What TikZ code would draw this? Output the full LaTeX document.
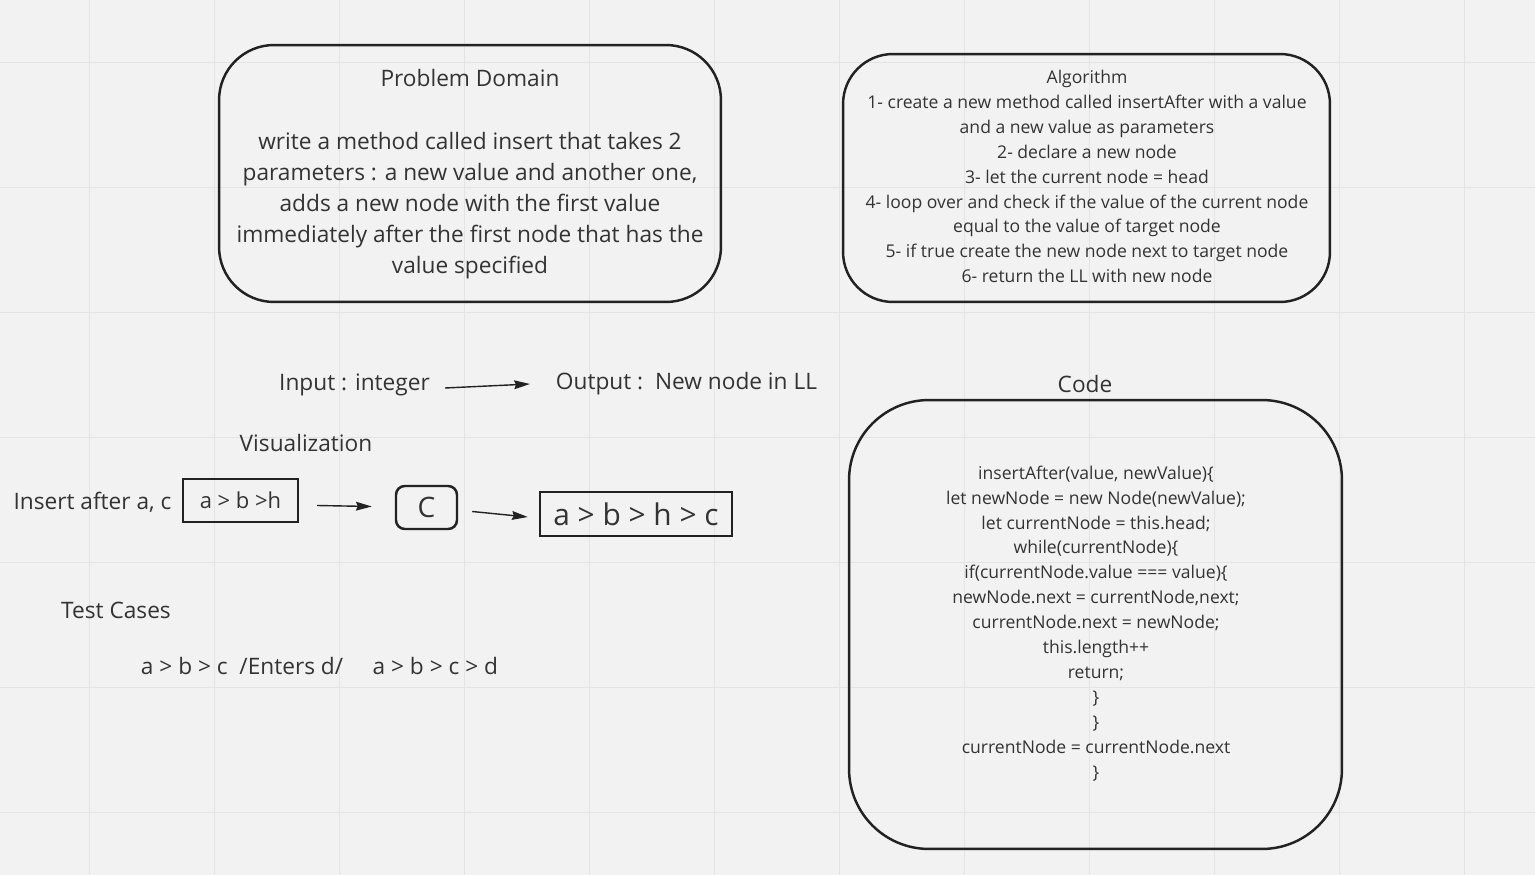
\documentclass[tikz,border=0pt]{standalone}
\usepackage{fontspec}
\setmainfont{Open Sans}
\usetikzlibrary{arrows.meta,positioning,calc}
\definecolor{board}{RGB}{242,242,242}
\definecolor{gridline}{RGB}{228,228,228}
\definecolor{ink}{RGB}{51,51,51}
\definecolor{edge}{RGB}{34,34,34}

\begin{document}
\begin{tikzpicture}[x=0.02cm,y=-0.02cm]
			\tikzset{line/.style={draw=edge,line width=1.4pt}}
			\tikzset{arrow/.style={draw=edge,line width=0.8pt,-{Stealth[length=9pt,width=5pt,inset=1pt]}}}
			\tikzset{card/.style={line,rounded corners=#1,inner sep=0pt}}
			\tikzset{txt/.style={text=ink,align=center,inner sep=0pt}}
			\tikzset{big/.style={txt,font=\fontsize{12.9}{17.6}\selectfont}}
			\tikzset{small/.style={txt,font=\fontsize{10}{14.2}\selectfont}}

			% board and grid
			\fill[board] (0,0) rectangle (1535,875);
			\useasboundingbox (0,0) rectangle (1535,875);
			\foreach \x in {89,214,...,1464} \draw[gridline,line width=0.5pt] (\x,0) -- (\x,875);
			\foreach \y in {62,187,...,812} \draw[gridline,line width=0.5pt] (0,\y) -- (1535,\y);

			% problem domain
			\node[card=1.1cm,minimum width=10.04cm,minimum height=5.14cm] (pdbox) at (470,173.5) {};
			\node[big] (pdtitle) at (470,78) {Problem Domain};
			\node[big] (pdtext) at (470,205.5) {write a method called insert that takes 2\\parameters : a new value and another one,\\adds a new node with the first value\\immediately after the first node that has the\\value specified};

			% algorithm
			\node[card=1.0cm,minimum width=9.74cm,minimum height=4.96cm] (algbox) at (1086.5,178) {};
			\node[small] (algtext) at (1087,176.5) {Algorithm\\1- create a new method called insertAfter with a value\\and a new value as parameters\\2- declare a new node\\3- let the current node = head\\4- loop over and check if the value of the current node\\equal to the value of target node\\5- if true create the new node next to target node\\6- return the LL with new node};

			% input / output
			\node[big] (input) at (354.5,385) {Input : integer};
			\node[big] (output) at (686.5,384) {Output :\ \ New node in LL};
			\coordinate (inR) at (445,388);
			\coordinate (outL) at (530,384);
			\draw[arrow] (inR) -- (outL);

			% code
			\node[big] (codetitle) at (1085,384) {Code};
			\node[card=1.6cm,minimum width=9.86cm,minimum height=8.98cm] (codebox) at (1095.5,624.5) {};
			\node[small] (codetext) at (1096,623.5) {insertAfter(value, newValue)\{\\let newNode = new Node(newValue);\\let currentNode = this.head;\\while(currentNode)\{\\if(currentNode.value === value)\{\\newNode.next = currentNode,next;\\currentNode.next = newNode;\\this.length++\\return;\\\}\\\}\\currentNode = currentNode.next\\\}};

			% visualization
			\node[big] (vis) at (306,443) {Visualization};
			\node[big] (insert) at (92.5,502) {Insert after a, c};
			\node[line,txt,font=\fontsize{12.5}{14}\selectfont,minimum width=2.3cm,minimum height=0.86cm] (list1) at (240.5,500.5) {a > b >h};
			\node[line,txt,font=\fontsize{16}{18}\selectfont,rounded corners=5pt,minimum width=1.22cm,minimum height=0.86cm] (newc) at (426.5,507.5) {C};
			\node[line,txt,font=\fontsize{17}{19}\selectfont,minimum width=3.84cm,minimum height=0.88cm] (list2) at (636,514) {a > b > h > c};
			\draw[arrow] ($(list1.east)+(18,5)$) -- ($(newc.west)+(-23,-1)$);
			\draw[arrow] ($(newc.east)+(14,4)$) -- ($(list2.west)+(-11,3)$);

			% test cases
			\node[big] (tests) at (116,610) {Test Cases};
			\node[big] (case1) at (319.5,666) {a > b > c\ \ /Enters d/\ \ \ \ \ a > b > c > d};
		\end{tikzpicture}
\end{document}
